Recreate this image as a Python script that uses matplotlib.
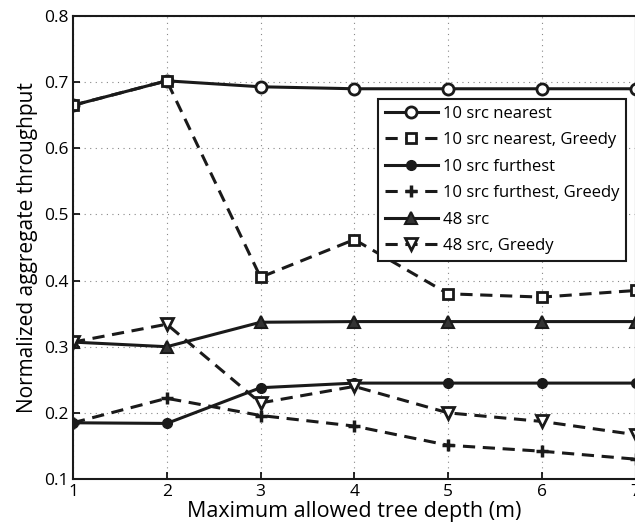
import matplotlib
matplotlib.use("Agg")
import matplotlib.pyplot as plt

depth = [1, 2, 3, 4, 5, 6, 7]

near = [0.665, 0.702, 0.693, 0.690, 0.690, 0.690, 0.690]
near_greedy = [0.665, 0.702, 0.405, 0.462, 0.380, 0.375, 0.385]
far = [0.185, 0.184, 0.238, 0.245, 0.245, 0.245, 0.245]
far_greedy = [0.185, 0.222, 0.196, 0.180, 0.151, 0.142, 0.130]
src48 = [0.307, 0.300, 0.337, 0.338, 0.338, 0.338, 0.338]
src48_greedy = [0.307, 0.334, 0.215, 0.240, 0.200, 0.187, 0.167]

plt.rcParams['font.family'] = ['Open Sans', 'DejaVu Sans']

fig = plt.figure(figsize=(6.35, 5.27), dpi=100)
ax = fig.add_axes([73 / 635, 48 / 527, 563 / 635, 463 / 527])

lw = 2.2
dash = (4, 2.5)
col = '#1a1a1a'

ax.plot(depth, near, '-', color=col, lw=lw, marker='o', ms=8, mfc='white', mew=2,
        label='10 src nearest')
ax.plot(depth, near_greedy, '--', color=col, lw=lw, dashes=dash, marker='s', ms=7, mfc='white', mew=2,
        label='10 src nearest, Greedy')
ax.plot(depth, far, '-', color=col, lw=lw, marker='o', ms=7, mfc=col,
        label='10 src furthest')
ax.plot(depth, far_greedy, '--', color=col, lw=lw, dashes=dash, marker='+', ms=9, mew=2.5,
        label='10 src furthest, Greedy')
ax.plot(depth, src48, '-', color=col, lw=lw, marker='^', ms=9, mfc='#333333', mew=1.5,
        label='48 src')
ax.plot(depth, src48_greedy, '--', color=col, lw=lw, dashes=dash, marker='v', ms=9, mfc='white', mew=2,
        label='48 src, Greedy')

ax.set_xlim(1, 7.0036)
ax.set_ylim(0.1, 0.8)
ax.set_xticks(depth)
ax.set_yticks([0.1, 0.2, 0.3, 0.4, 0.5, 0.6, 0.7, 0.8])
ax.grid(True, linestyle=(0, (1, 4)), color='#888888', lw=0.8)
ax.tick_params(direction='in', labelsize=12.5, length=5, width=1.2)
for s in ax.spines.values():
    s.set_linewidth(1.5)
    s.set_color(col)

ax.set_xlabel('Maximum allowed tree depth (m)', fontsize=15.5, labelpad=1)
ax.set_ylabel('Normalized aggregate throughput', fontsize=15, labelpad=4)

leg = ax.legend(loc='upper left', bbox_to_anchor=(0.542, 0.821), fontsize=12,
                handlelength=3.2, handletextpad=0.3, labelspacing=0.63,
                borderpad=0.4, borderaxespad=0, fancybox=False, framealpha=1)
leg.get_frame().set_edgecolor(col)
leg.get_frame().set_linewidth(1.5)

fig.savefig('out.png', dpi=100)
